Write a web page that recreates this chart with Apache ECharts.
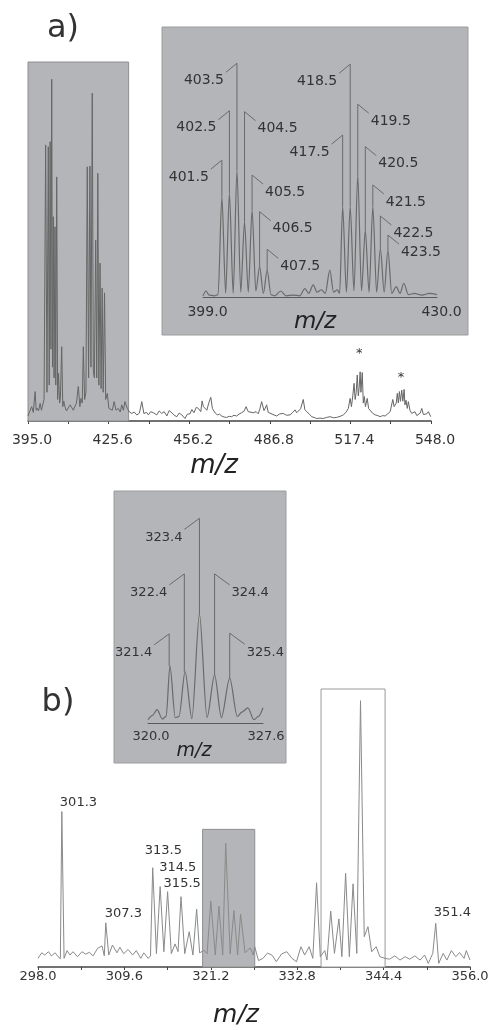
<!DOCTYPE html>
<html>
<head>
<meta charset="utf-8">
<script src="https://cdn.jsdelivr.net/npm/echarts@6/dist/echarts.min.js"></script>
<style>
  html, body { margin: 0; padding: 0; background: #fff; }
  #spectra { width: 493px; height: 1030px; }
</style>
</head>
<body>
<div id="spectra"></div>
<script>
// ---- a) full spectrum, m/z 395 - 548 ----
var ticksA = [395, 410.3, 425.6, 440.9, 456.2, 471.5, 486.8, 502.1, 517.4, 532.7, 548];
var tickLabelsA = ['395.0', '425.6', '456.2', '486.8', '517.4', '548.0'];
var specA = [
  [395.0,1.4],[395.6,2.6],[396.4,4.0],[397.0,2.4],[397.7,8.2],[398.1,3.0],[398.5,3.6],[399.0,2.8],[399.6,4.9],[400.1,3.0],[400.6,3.5],[401.1,6.0],
  [401.7,76.9],[402.2,8.0],[402.7,76.4],[403.05,10.0],[403.4,77.8],[403.7,20.0],[404.0,95.2],[404.3,15.0],[404.6,56.9],[404.9,12.0],
  [405.25,54.1],[405.55,10.0],[405.9,68.0],[406.25,6.0],[406.6,13.3],[407.0,5.0],[407.3,6.5],[407.8,20.7],[408.2,4.0],[408.6,5.5],
  [409.0,4.0],[409.6,2.8],[410.3,2.6],[411.0,4.5],[411.6,4.9],[412.2,3.0],[412.8,3.5],[413.4,5.0],[414.1,9.6],[414.7,4.0],[415.1,6.3],
  [415.6,5.0],[416.0,20.7],[416.5,6.0],[417.0,8.0],[417.5,70.8],[418.0,12.0],[418.5,71.0],[418.9,15.0],[419.4,91.3],[419.8,14.0],
  [420.2,12.0],[420.7,50.4],[421.1,12.0],[421.5,69.0],[421.9,10.0],[422.35,44.0],[422.75,9.0],[423.15,37.0],[423.55,8.0],[424.05,35.7],
  [424.5,6.0],[425.1,7.7],[425.7,3.5],[426.4,4.0],[427.0,3.0],[427.7,5.4],[428.4,3.0],[429.3,3.5],[430.0,2.5],[430.6,4.5],[431.2,3.0],
  [431.8,5.4],[432.7,3.5],[433.5,2.5],[434.4,2.1],[435.3,2.5],[436.3,1.7],[437.3,2.2],[438.2,5.4],[439.0,2.1],[440.0,2.4],[440.7,1.7],
  [441.6,2.6],[442.6,2.3],[443.9,1.7],[444.8,2.8],[445.8,2.1],[446.7,2.6],[447.7,1.4],[448.6,2.9],[449.6,2.3],[450.5,1.6],[451.5,1.2],
  [452.4,2.2],[453.4,1.7],[454.6,0.7],[455.5,1.9],[456.5,2.0],[457.2,3.2],[458.0,2.3],[458.9,3.8],[459.7,3.5],[460.6,2.6],[461.1,5.6],
  [461.6,4.0],[462.3,3.5],[462.9,3.0],[463.7,5.2],[464.4,6.6],[465.0,3.5],[465.4,3.0],[466.1,2.2],[466.9,1.7],[467.7,1.9],[468.5,1.4],
  [469.5,1.1],[470.4,1.0],[471.4,1.3],[472.3,1.2],[473.2,1.6],[474.2,1.4],[475.1,1.9],[476.1,2.3],[477.0,2.7],[477.8,4.0],[478.6,2.6],
  [479.3,2.6],[480.5,2.3],[481.6,2.6],[482.4,2.0],[483.0,3.3],[483.7,5.4],[484.6,2.9],[485.1,3.6],[485.6,4.5],[486.2,2.4],[486.9,2.1],
  [488.0,1.8],[489.4,1.4],[490.6,2.0],[491.9,2.1],[493.2,1.6],[494.5,1.7],[495.5,2.4],[496.4,3.1],[497.0,2.3],[497.6,2.1],[498.5,3.4],
  [499.5,6.0],[500.1,3.2],[500.8,2.6],[501.7,2.0],[502.7,1.2],[503.6,1.0],[504.6,0.7],[505.8,0.8],[507.1,0.7],[508.4,1.0],[509.7,1.2],
  [511.0,0.9],[512.2,1.0],[513.5,1.3],[514.7,1.7],[515.7,2.4],[516.6,3.5],[517.3,6.3],[517.8,4.0],[518.3,7.0],[518.8,10.5],[519.2,6.0],
  [519.6,8.0],[520.0,12.8],[520.4,7.0],[520.7,9.0],[521.1,13.7],[521.4,8.0],[521.9,13.5],[522.3,5.0],[522.7,6.8],[523.1,4.0],[523.8,6.3],
  [524.3,3.5],[524.9,3.1],[525.8,2.2],[526.8,1.7],[527.8,1.5],[528.7,1.2],[529.6,1.5],[530.6,1.4],[531.6,2.0],[532.5,2.6],[533.5,6.0],
  [534.0,4.0],[534.3,3.8],[534.8,5.0],[535.2,7.7],[535.6,5.0],[536.0,8.2],[536.4,5.5],[536.9,8.6],[537.3,5.5],[537.8,8.8],[538.1,4.5],
  [538.5,5.8],[539.0,3.5],[539.4,5.4],[540.0,3.0],[540.7,2.1],[541.3,1.8],[541.9,2.6],[542.6,1.5],[543.2,1.7],[543.9,2.2],[544.5,3.5],
  [545.1,1.8],[545.7,1.7],[546.4,2.0],[547.0,2.6],[547.9,1.2]
];
var boxA = [395.0, 433.2];
var starMzA = [520.8, 536.6];
var starLevelA = [18.7, 12.2];

// ---- a) inset, m/z 399 - 430 ----
var tickLabelsInsetA = ['399.0', '430.0'];
var specInsetA = [
  [399.0,0.5],[399.4,2.5],[399.8,0.8],[400.5,0.5],[401.0,1.0],[401.5,41.6],[402.0,1.5],[402.5,43.0],[403.0,1.5],[403.5,52.7],
  [404.0,2.0],[404.5,31.2],[405.0,2.0],[405.5,36.1],[406.0,2.5],[406.5,12.6],[407.0,1.5],[407.5,11.2],[408.0,1.0],[408.5,0.5],
  [409.3,2.5],[410.0,0.5],[411.0,0.8],[411.8,0.5],[412.5,3.5],[413.0,1.5],[413.6,5.0],[414.1,2.0],[414.7,3.0],[415.2,1.5],
  [415.8,11.2],[416.3,2.0],[416.8,3.0],[417.1,1.5],[417.5,37.5],[418.0,2.0],[418.5,37.5],[419.0,2.5],[419.5,50.6],[420.0,2.5],
  [420.5,27.8],[421.0,2.0],[421.5,37.5],[422.0,2.0],[422.5,20.2],[423.0,2.0],[423.5,19.5],[424.0,1.5],[424.6,4.3],[425.1,1.5],
  [425.6,5.7],[426.2,1.0],[427.0,1.5],[428.0,0.8],[429.0,1.5],[430.0,1.0]
];
var annLabelsA = ['401.5','402.5','403.5','404.5','405.5','406.5','407.5','417.5','418.5','419.5','420.5','421.5','422.5','423.5'];
var annPeakA = [41.6, 43.0, 52.7, 31.2, 36.1, 12.6, 11.2, 37.5, 37.5, 50.6, 27.8, 37.5, 20.2, 19.5];
var annTopA = [56.8, 77.3, 97.0, 76.9, 50.6, 35.4, 19.8, 67.2, 96.6, 80.0, 62.4, 46.5, 33.6, 25.7];

// ---- b) full spectrum, m/z 298 - 356 ----
var ticksB = [298, 303.8, 309.6, 315.4, 321.2, 327, 332.8, 338.6, 344.4, 350.2, 356];
var tickLabelsB = ['298.0', '309.6', '321.2', '332.8', '344.4', '356.0'];
var specB = [
  [298.0,3.1],[298.5,5.1],[298.9,4.3],[299.4,5.5],[299.8,4.0],[300.3,5.1],[300.7,3.7],[301.0,3.0],[301.2,55.9],[301.5,3.1],
  [301.9,5.9],[302.3,4.3],[302.7,5.5],[303.3,3.7],[303.9,5.5],[304.4,4.6],[304.9,5.3],[305.4,4.0],[306.0,6.7],[306.6,7.6],
  [306.9,4.0],[307.1,15.9],[307.5,4.3],[308.0,7.9],[308.6,5.1],[309.0,7.1],[309.5,4.8],[310.1,6.3],[310.7,4.3],[311.2,5.9],
  [311.8,3.1],[312.2,5.1],[312.8,3.1],[313.1,4.0],[313.4,35.7],[313.9,4.8],[314.4,28.9],[314.9,5.5],[315.4,27.1],[315.9,4.8],
  [316.4,8.3],[316.8,5.5],[317.2,25.3],[317.7,4.8],[318.3,12.7],[318.8,4.3],[319.3,20.8],[319.7,5.1],[320.3,6.0],[320.7,4.8],
  [321.2,23.7],[321.8,4.3],[322.3,21.9],[322.8,4.3],[323.2,44.5],[323.8,4.8],[324.3,20.3],[324.8,4.3],[325.2,19.0],[325.8,5.1],
  [326.5,6.9],[326.9,4.3],[327.1,7.3],[327.6,2.3],[328.2,3.1],[328.8,5.0],[329.4,4.3],[330.0,1.9],[330.7,4.7],[331.4,5.5],
  [332.1,3.1],[332.7,1.9],[333.3,7.3],[333.8,4.3],[334.4,7.3],[334.9,3.1],[335.4,30.3],[335.9,3.7],[336.5,5.9],[336.8,2.5],
  [337.3,20.1],[337.8,4.9],[338.4,17.3],[338.8,3.7],[339.3,33.7],[339.8,3.7],[340.3,29.9],[340.8,4.9],[341.3,95.8],[341.8,10.9],
  [342.3,14.5],[342.8,5.5],[343.4,7.3],[343.9,3.7],[344.6,3.1],[345.2,2.8],[345.9,4.0],[346.6,2.5],[347.3,3.7],[347.9,2.8],
  [348.6,4.0],[349.3,2.5],[349.9,4.3],[350.4,1.3],[351.0,4.9],[351.4,15.7],[351.8,1.3],[352.4,4.9],[352.9,2.5],[353.5,5.9],
  [354.1,3.7],[354.6,5.2],[355.2,3.1],[355.5,5.9],[356.0,2.5]
];
var peakLabelsB = ['301.3', '307.3', '313.5', '314.5', '315.5', '351.4'];
var peakMzB = [301.2, 307.1, 313.4, 314.4, 315.4, 351.4];
var peakIntB = [55.9, 15.9, 35.7, 28.9, 27.1, 15.7];
var grayBoxB = [320.1, 327.1, 49.5];
var whiteBoxB = [336.0, 344.6];

// ---- b) inset, m/z 320 - 327.6 ----
var tickLabelsInsetB = ['320.0', '327.6'];
var specInsetB = [
  [320.0,1.5],[320.3,3.5],[320.6,6.1],[320.95,1.8],[321.2,3.0],[321.45,26.2],[321.8,2.5],[322.05,3.0],[322.45,23.6],[322.9,2.0],
  [323.4,49.9],[323.9,2.5],[324.4,22.1],[324.85,2.5],[325.4,20.6],[325.9,3.0],[326.2,5.0],[326.6,6.9],[327.0,1.5],[327.3,3.0],[327.6,7.0]
];
var annLabelsB = ['321.4', '322.4', '323.4', '324.4', '325.4'];
var annPeakB = [26.2, 23.6, 49.9, 22.1, 20.6];
var annTopB = [40.9, 68.4, 93.9, 68.4, 41.2];

// label sides (-1 = label on the left of the marker line) and nudges, layout only
var sidesA = [-1, -1, -1, 1, 1, 1, 1, -1, -1, 1, 1, 1, 1, 1];
var sidesB = [-1, -1, -1, 1, 1];
var nudgeB = [[-2, -9], [-1, -9], [-8, -17], [-1, -19], [-4, -8], [-2, -11]];

var FONT = '"DejaVu Sans", "Liberation Sans", sans-serif';
var TEXT = '#333';
var BOXGRAY = '#b4b5b8';

function toPairs(xs, ys, zs) {
    return xs.map(function (x, i) { return zs ? [x, ys[i], zs[i]] : [x, ys[i]]; });
}

function annotate(labels, sides, dx, dy, size) {
    return function (params, api) {
        var i = params.dataIndex;
        var peak = api.coord([api.value(0), api.value(1)]);
        var top = api.coord([api.value(0), api.value(2)]);
        var s = sides[i];
        var end = [top[0] + s * dx, top[1] + dy];
        return {
            type: 'group',
            children: [
                {
                    type: 'polyline',
                    shape: { points: [peak, top, end] },
                    style: { stroke: '#6a6a6a', lineWidth: 1, fill: null }
                },
                {
                    type: 'text',
                    x: end[0] + s * 2,
                    y: end[1] + 8,
                    style: {
                        text: labels[i],
                        font: size + 'px ' + FONT,
                        fill: TEXT,
                        align: s < 0 ? 'right' : 'left',
                        verticalAlign: 'middle'
                    }
                }
            ]
        };
    };
}

function xAxisOf(grid, min, max, ticks, labels, opts) {
    return {
        type: 'value',
        gridIndex: grid,
        min: min,
        max: max,
        splitLine: { show: false },
        axisLine: { show: true, onZero: false, lineStyle: { color: opts.lineColor, width: opts.lineWidth } },
        axisTick: ticks ? { show: true, customValues: ticks, length: 3, inside: false, lineStyle: { color: opts.lineColor } } : { show: false },
        axisLabel: {
            show: true,
            customValues: labels.map(Number),
            formatter: function (v) { return v.toFixed(1); },
            margin: opts.margin,
            padding: opts.padding || 0,
            color: TEXT,
            fontSize: opts.fontSize,
            fontFamily: FONT
        }
    };
}

function yAxisOf(grid) {
    return { type: 'value', gridIndex: grid, min: 0, max: 100, show: false };
}

var myChart = echarts.init(document.getElementById('spectra'));

myChart.setOption({
    animation: false,
    backgroundColor: '#fff',
    grid: [
        { left: 28, top: 62, width: 403, height: 359, outerBoundsMode: 'none' },
        { left: 203, top: 56, width: 234, height: 241, outerBoundsMode: 'none' },
        { left: 38, top: 689, width: 432, height: 278, outerBoundsMode: 'none' },
        { left: 148, top: 505, width: 115, height: 218, outerBoundsMode: 'none' }
    ],
    xAxis: [
        xAxisOf(0, 395, 548, ticksA, tickLabelsA, { lineColor: '#444', lineWidth: 1.5, margin: 12, fontSize: 14, padding: [0, 0, 0, 8] }),
        xAxisOf(1, 399, 430, null, tickLabelsInsetA, { lineColor: '#5a5a5a', lineWidth: 1, margin: 8, fontSize: 14, padding: [0, 0, 0, 9] }),
        xAxisOf(2, 298, 356, ticksB, tickLabelsB, { lineColor: '#444', lineWidth: 1.5, margin: 3, fontSize: 13 }),
        xAxisOf(3, 320, 327.6, null, tickLabelsInsetB, { lineColor: '#5a5a5a', lineWidth: 1, margin: 7, fontSize: 13, padding: [0, 0, 0, 6] })
    ],
    yAxis: [yAxisOf(0), yAxisOf(1), yAxisOf(2), yAxisOf(3)],
    graphic: [
        { type: 'rect', z: 0, shape: { x: 162, y: 27, width: 306, height: 308 }, style: { fill: BOXGRAY, stroke: '#9c9c9c', lineWidth: 1 } },
        { type: 'rect', z: 0, shape: { x: 114, y: 491, width: 172, height: 272 }, style: { fill: BOXGRAY, stroke: '#9c9c9c', lineWidth: 1 } },
        { type: 'text', x: 63, y: 29, style: { text: 'a)', font: '32px ' + FONT, fill: TEXT, align: 'center', verticalAlign: 'middle' } },
        { type: 'text', x: 58, y: 703, style: { text: 'b)', font: '32px ' + FONT, fill: TEXT, align: 'center', verticalAlign: 'middle' } },
        { type: 'text', x: 214, y: 466, style: { text: 'm/z', font: 'italic 26px ' + FONT, fill: '#222', align: 'center', verticalAlign: 'middle' } },
        { type: 'text', x: 315, y: 322, style: { text: 'm/z', font: 'italic 23px ' + FONT, fill: '#222', align: 'center', verticalAlign: 'middle' } },
        { type: 'text', x: 194, y: 751, style: { text: 'm/z', font: 'italic 19px ' + FONT, fill: '#222', align: 'center', verticalAlign: 'middle' } },
        { type: 'text', x: 236, y: 1015, style: { text: 'm/z', font: 'italic 25px ' + FONT, fill: '#222', align: 'center', verticalAlign: 'middle' } }
    ],
    series: [
        {
            name: 'spectrum a',
            type: 'line',
            xAxisIndex: 0,
            yAxisIndex: 0,
            showSymbol: false,
            silent: true,
            lineStyle: { color: '#666', width: 1 },
            data: specA,
            markArea: {
                silent: true,
                label: { show: false },
                itemStyle: { color: BOXGRAY, opacity: 1, borderColor: '#8e8e8e', borderWidth: 1 },
                data: [[{ xAxis: boxA[0] }, { xAxis: boxA[1] }]]
            }
        },
        {
            name: 'stars a',
            type: 'custom',
            xAxisIndex: 0,
            yAxisIndex: 0,
            silent: true,
            data: toPairs(starMzA, starLevelA),
            renderItem: function (params, api) {
                var p = api.coord([api.value(0), api.value(1)]);
                return {
                    type: 'text', x: p[0], y: p[1],
                    style: { text: '*', font: '13px ' + FONT, fill: TEXT, align: 'center', verticalAlign: 'middle' }
                };
            }
        },
        {
            name: 'inset a',
            type: 'line',
            xAxisIndex: 1,
            yAxisIndex: 1,
            showSymbol: false,
            silent: true,
            smooth: 0.3,
            smoothMonotone: 'x',
            lineStyle: { color: '#6a6a6a', width: 1.2 },
            data: specInsetA
        },
        {
            name: 'inset a labels',
            type: 'custom',
            xAxisIndex: 1,
            yAxisIndex: 1,
            silent: true,
            data: toPairs(annLabelsA.map(Number), annPeakA, annTopA),
            renderItem: annotate(annLabelsA, sidesA, 11, 9, 14)
        },
        {
            name: 'spectrum b',
            type: 'line',
            xAxisIndex: 2,
            yAxisIndex: 2,
            showSymbol: false,
            silent: true,
            lineStyle: { color: '#8a8a8a', width: 1 },
            data: specB,
            markArea: {
                silent: true,
                label: { show: false },
                data: [
                    [
                        { xAxis: grayBoxB[0], yAxis: grayBoxB[2], itemStyle: { color: BOXGRAY, opacity: 1, borderColor: '#8e8e8e', borderWidth: 1 } },
                        { xAxis: grayBoxB[1], yAxis: 0 }
                    ],
                    [
                        { xAxis: whiteBoxB[0], yAxis: 100, itemStyle: { color: '#fff', opacity: 1, borderColor: '#9a9a9a', borderWidth: 1 } },
                        { xAxis: whiteBoxB[1], yAxis: 0 }
                    ]
                ]
            }
        },
        {
            name: 'spectrum b labels',
            type: 'custom',
            xAxisIndex: 2,
            yAxisIndex: 2,
            silent: true,
            data: toPairs(peakMzB, peakIntB),
            renderItem: function (params, api) {
                var i = params.dataIndex;
                var p = api.coord([api.value(0), api.value(1)]);
                return {
                    type: 'text',
                    x: p[0] + nudgeB[i][0],
                    y: p[1] + nudgeB[i][1],
                    style: { text: peakLabelsB[i], font: '13px ' + FONT, fill: TEXT, align: 'left', verticalAlign: 'middle' }
                };
            }
        },
        {
            name: 'inset b',
            type: 'line',
            xAxisIndex: 3,
            yAxisIndex: 3,
            showSymbol: false,
            silent: true,
            smooth: 0.3,
            smoothMonotone: 'x',
            lineStyle: { color: '#6a6a6a', width: 1.2 },
            data: specInsetB
        },
        {
            name: 'inset b labels',
            type: 'custom',
            xAxisIndex: 3,
            yAxisIndex: 3,
            silent: true,
            data: toPairs(annLabelsB.map(Number), annPeakB, annTopB),
            renderItem: annotate(annLabelsB, sidesB, 15, 11, 13)
        }
    ]
});
</script>
</body>
</html>
